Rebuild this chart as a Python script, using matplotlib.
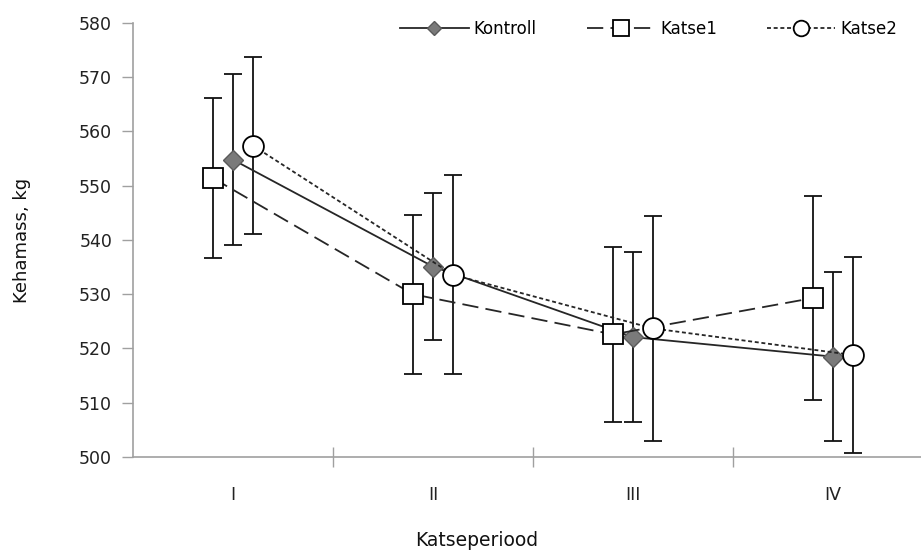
import matplotlib
matplotlib.use("Agg")
import matplotlib.pyplot as plt
import numpy as np

periods = ["I", "II", "III", "IV"]
kontroll = [554.8, 535.1, 522.1, 518.5]
kontroll_err = [15.8, 13.6, 15.6, 15.6]
katse1 = [551.4, 530.0, 522.6, 529.3]
katse1_err = [14.8, 14.7, 16.2, 18.8]
katse2 = [557.4, 533.6, 523.7, 518.8]
katse2_err = [16.3, 18.3, 20.7, 18.0]

plt.rcParams['font.family'] = ['DejaVu Sans']
fig = plt.figure(figsize=(9.21, 5.58), dpi=100)
W, H = 921, 558
ax = fig.add_axes([133 / W, (H - 457) / H, 800 / W, (457 - 23) / H])

x = np.arange(1, len(periods) + 1)
off = 0.1

for xs, ys, es in [(x, kontroll, kontroll_err), (x - off, katse1, katse1_err),
                   (x + off, katse2, katse2_err)]:
    ax.errorbar(xs, ys, yerr=es, fmt='none', ecolor='#111111',
                elinewidth=1.3, capsize=6.5, capthick=1.3, zorder=2)

ax.plot(x, kontroll, color='#262626', lw=1.3, ls='-', marker='D', ms=10,
        mfc='#7a7a7a', mec='#5a5a5a', mew=1.0, label='Kontroll', zorder=4)
ax.plot(x - off, katse1, color='#262626', lw=1.3, ls=(0, (9, 4)), marker='s', ms=15,
        mfc='white', mec='black', mew=1.3, label='Katse1', zorder=4)
ax.plot(x + off, katse2, color='#262626', lw=1.3, ls=(0, (2.2, 1.5)), marker='o', ms=15,
        mfc='white', mec='black', mew=1.3, label='Katse2', zorder=4)

ax.set_xlim(0.5, 4.5)
ax.set_ylim(500, 580)
ax.set_yticks(np.arange(500, 581, 10))
ax.set_xticks([1.5, 2.5, 3.5])
ax.set_xticklabels([])
ax.set_xticks(x, minor=True)
ax.set_xticklabels(periods, minor=True)
ax.tick_params(axis='x', which='major', direction='inout', length=14, width=1, color='#a0a0a0')
ax.tick_params(axis='x', which='minor', length=0, pad=21, labelsize=12.5, labelcolor='#222222')
ax.tick_params(axis='y', direction='out', length=8, width=1, color='#a0a0a0',
               labelsize=12.5, labelcolor='#222222', pad=7)

for s in ['top', 'right']:
    ax.spines[s].set_visible(False)
for s in ['left', 'bottom']:
    ax.spines[s].set_color('#a0a0a0')
    ax.spines[s].set_linewidth(1.2)

ax.set_ylabel('Kehamass, kg', fontsize=13, color='#111111')
ax.yaxis.set_label_coords((22 - 133) / 800, 0.5)
ax.set_xlabel('Katseperiood', fontsize=13.5, color='#111111')
ax.xaxis.set_label_coords((477 - 133) / 800, (457 - 541) / 434)
ax.xaxis.label.set_va('center')
ax.yaxis.label.set_va('center')

leg = ax.legend(loc='upper right', ncol=3, frameon=False, fontsize=12,
                handlelength=4.1, columnspacing=3.0, handletextpad=0.3, markerscale=0.75)
leg.set_bbox_to_anchor((912 / W, 1 - 5 / H), transform=fig.transFigure)

fig.savefig('out.png', dpi=100)
